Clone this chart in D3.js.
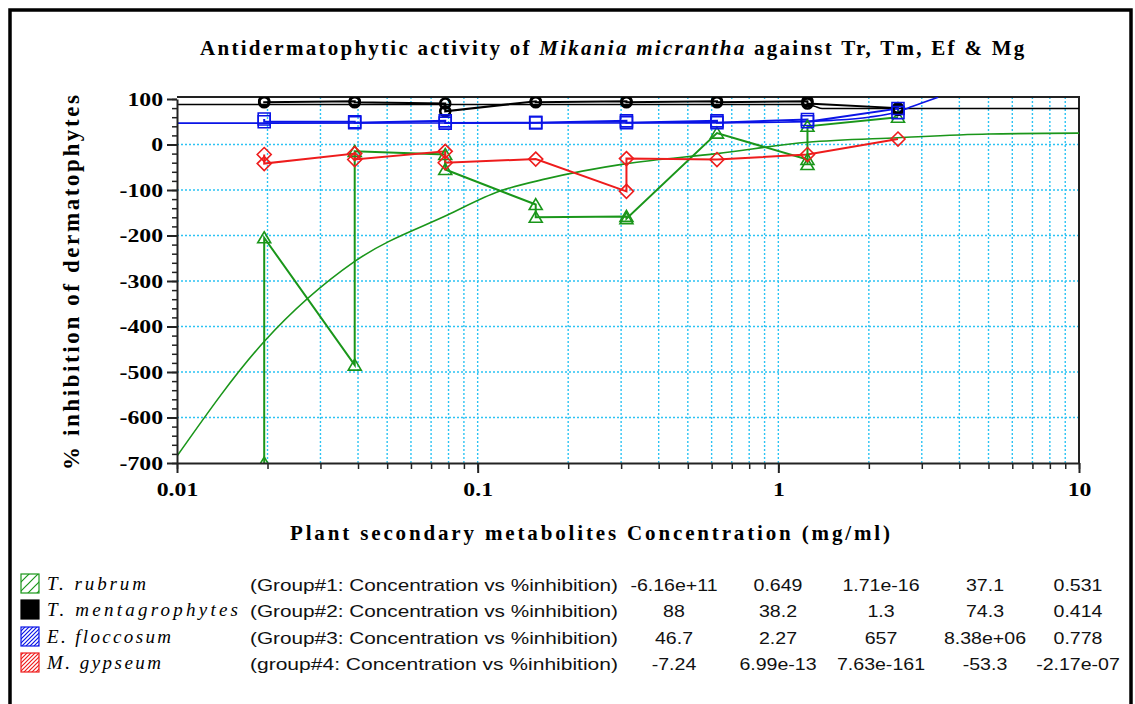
<!DOCTYPE html>
<html>
<head>
<meta charset="utf-8">
<script src="https://cdn.jsdelivr.net/npm/d3@7"></script>
<style>
  body { margin: 0; background: #fff; }
  svg { display: block; }
</style>
</head>
<body>
<div class="chart"></div>
<script>
var width = 1135
var height = 704

// measured points, in the order the original connects them
var rubrumX = [0.0195, 0.0195, 0.039, 0.039, 0.078, 0.078, 0.156, 0.156, 0.3125, 0.3125, 0.625, 1.25, 1.25, 1.25, 2.5]
var rubrumY = [-700, -205, -485, -15, -22, -55, -132, -160, -158, -163, 25, -33, -44, 40, 60]

var mentaX = [0.0195, 0.0195, 0.039, 0.039, 0.078, 0.078, 0.156, 0.156, 0.3125, 0.3125, 0.625, 0.625, 1.25, 1.25, 2.5, 2.5]
var mentaY = [95, 93, 95, 93, 90, 73, 95, 93, 95, 93, 95, 93, 95, 90, 80, 76]

var flocX = [0.0195, 0.0195, 0.039, 0.039, 0.078, 0.078, 0.156, 0.156, 0.3125, 0.3125, 0.625, 0.625, 1.25, 1.25, 2.5, 2.5]
var flocY = [56, 50, 50, 48, 52, 47, 48, 48, 52, 48, 52, 48, 55, 50, 79, 70]

var gypX = [0.0195, 0.0195, 0.039, 0.039, 0.078, 0.078, 0.156, 0.3125, 0.3125, 0.625, 1.25, 2.5]
var gypY = [-22, -42, -20, -33, -15, -40, -32, -103, -31, -33, -22, 12]

// fitted curves
var rubrumFitX = [0.01, 0.0195, 0.039, 0.08, 0.118, 0.17, 0.3125, 0.625, 1.25, 2.5, 5, 10]
var rubrumFitY = [-685, -433, -257, -154, -103, -75, -42, -20, 5, 15, 23, 25]
var mentaFitX = [0.01, 1.25, 1.32, 1.4, 10]
var mentaFitY = [88, 88, 84, 79, 79]
var flocFitX = [0.01, 0.5, 1, 1.5, 2, 2.5, 2.8, 3.0, 3.4]
var flocFitY = [47, 47.5, 49, 53, 60, 72, 84, 91, 104]

var xTickLabels = ['0.01', '0.1', '1', '10']
var xMajor = [0.01, 0.1, 1, 10]
var yMajor = d3.range(-700, 101, 100)

var legendNames = ['T. rubrum', 'T. mentagrophytes', 'E. floccosum', 'M. gypseum']
var legendGroups = ['(Group#1: Concentration vs %inhibition)', '(Group#2: Concentration vs %inhibition)',
    '(Group#3: Concentration vs %inhibition)', '(group#4: Concentration vs %inhibition)']
var legendParams = [
    ['-6.16e+11', '0.649', '1.71e-16', '37.1', '0.531'],
    ['88', '38.2', '1.3', '74.3', '0.414'],
    ['46.7', '2.27', '657', '8.38e+06', '0.778'],
    ['-7.24', '6.99e-13', '7.63e-161', '-53.3', '-2.17e-07']
]

var green = '#1a961a', blue = '#0a14e6', red = '#ee1c1c', gridBlue = '#2cc3f3'
var serif = '"Liberation Serif", "DejaVu Serif", serif'
var sans = '"Liberation Sans", Arial, sans-serif'

var canvas = d3.select('.chart').append('svg')
    .attr('width', width)
    .attr('height', height)

var x = d3.scaleLog().domain([0.01, 10]).range([177, 1079])
var y = d3.scaleLinear().domain([-700, 100]).range([463, 99])

// stretch a text to a given width by spacing letters
function spread(sel, target) {
    sel.each(function () {
        var n = this.textContent.length
        var len = this.getComputedTextLength()
        d3.select(this).attr('letter-spacing', ((target - len) / (n - 1)) + 'px')
    })
}
// stretch glyphs to a given width
function stretchTo(sel, target) {
    sel.attr('textLength', target).attr('lengthAdjust', 'spacingAndGlyphs')
}

// outer frame
canvas.append('rect')
    .attr('x', 10).attr('y', 10)
    .attr('width', 1121).attr('height', 720)
    .attr('fill', 'none').attr('stroke', '#000').attr('stroke-width', 3.5)

// title
var title = canvas.append('text')
    .attr('x', 200).attr('y', 55)
    .attr('font-family', serif).attr('font-size', 21).attr('font-weight', 'bold')
title.append('tspan').text('Antidermatophytic activity of ')
title.append('tspan').attr('font-style', 'italic').text('Mikania micrantha')
title.append('tspan').text(' against Tr, Tm, Ef & Mg')
var tl = title.node().getComputedTextLength()
title.attr('letter-spacing', ((822 - tl) / 69) + 'px')

// grid
var grid = canvas.append('g')
grid.selectAll('.vg')
    .data(x.ticks().filter(function (d) { return d > 0.0101 && d < 9.99 }))
    .enter().append('line')
    .attr('x1', function (d) { return x(d) }).attr('x2', function (d) { return x(d) })
    .attr('y1', y(100) - 2).attr('y2', y(-700))
    .attr('stroke', gridBlue).attr('stroke-width', 1.4).attr('stroke-dasharray', '2,2')
grid.selectAll('.hg')
    .data(d3.range(-600, 1, 100))
    .enter().append('line')
    .attr('x1', x(0.01)).attr('x2', x(10))
    .attr('y1', function (d) { return y(d) }).attr('y2', function (d) { return y(d) })
    .attr('stroke', gridBlue).attr('stroke-width', 1.4).attr('stroke-dasharray', '2,2')

// plot frame top and right
canvas.append('path')
    .attr('d', 'M' + x(0.01) + ',' + (y(100) - 2) + 'H' + x(10) + 'V' + y(-700))
    .attr('fill', 'none').attr('stroke', '#222').attr('stroke-width', 2)

var clip = canvas.append('clipPath').attr('id', 'plotclip')
clip.append('rect').attr('x', x(0.01)).attr('y', y(100) - 2)
    .attr('width', x(10) - x(0.01)).attr('height', y(-700) - y(100) + 2)

var line = d3.line()
    .x(function (d) { return x(d[0]) })
    .y(function (d) { return y(d[1]) })
var smooth = d3.line()
    .x(function (d) { return x(d[0]) })
    .y(function (d) { return y(d[1]) })
    .curve(d3.curveMonotoneX)

function zip(a, b) { return a.map(function (v, i) { return [v, b[i]] }) }

var plot = canvas.append('g').attr('clip-path', 'url(#plotclip)')

// fitted curves
plot.append('path').datum(zip(rubrumFitX, rubrumFitY)).attr('d', smooth)
    .attr('fill', 'none').attr('stroke', green).attr('stroke-width', 1.6)
plot.append('path').datum(zip(mentaFitX, mentaFitY)).attr('d', smooth)
    .attr('fill', 'none').attr('stroke', '#000').attr('stroke-width', 1.6)
plot.append('path').datum(zip(flocFitX, flocFitY)).attr('d', smooth)
    .attr('fill', 'none').attr('stroke', blue).attr('stroke-width', 1.6)

// data lines
var series = [
    { x: rubrumX, y: rubrumY, color: green, shape: 'tri' },
    { x: mentaX, y: mentaY, color: '#000', shape: 'circ' },
    { x: flocX, y: flocY, color: blue, shape: 'sq' },
    { x: gypX, y: gypY, color: red, shape: 'dia' }
]
series.forEach(function (s) {
    plot.append('path').datum(zip(s.x, s.y)).attr('d', line)
        .attr('fill', 'none').attr('stroke', s.color).attr('stroke-width', 2)
})

var shapes = {
    tri: 'M0,-6L6.5,5H-6.5Z',
    circ: 'M-5,0A5,5 0 1,0 5,0A5,5 0 1,0 -5,0Z',
    sq: 'M-6,-6H6V6H-6Z',
    dia: 'M0,-7L7,0L0,7L-7,0Z'
}
series.forEach(function (s) {
    plot.selectAll(null).data(zip(s.x, s.y)).enter().append('path')
        .attr('transform', function (d) { return 'translate(' + x(d[0]) + ',' + y(d[1]) + ')' })
        .attr('d', shapes[s.shape])
        .attr('fill', 'none').attr('stroke', s.color)
        .attr('stroke-width', s.shape === 'circ' ? 2.6 : 1.6)
})

// axes
function styleTicks(g, stretch) {
    g.select('.domain').attr('stroke', '#222').attr('stroke-width', 2)
    g.selectAll('.tick line').attr('stroke', '#222').attr('stroke-width', 2)
    g.selectAll('.tick text')
        .attr('font-family', serif).attr('font-size', 19).attr('font-weight', 'bold').attr('fill', '#000')
        .each(function () {
            var len = this.getComputedTextLength()
            d3.select(this).attr('textLength', len * stretch).attr('lengthAdjust', 'spacingAndGlyphs')
        })
}

var yMinor = canvas.append('g').attr('transform', 'translate(' + x(0.01) + ',0)')
    .call(d3.axisLeft(y).tickValues(d3.range(-700, 101, 20)).tickSize(5).tickFormat(''))
yMinor.select('.domain').remove()
yMinor.selectAll('line').attr('stroke', '#222').attr('stroke-width', 1.5)

var yAxis = canvas.append('g').attr('transform', 'translate(' + x(0.01) + ',0)')
    .call(d3.axisLeft(y).tickValues(yMajor).tickSize(10).tickSizeOuter(0).tickPadding(4)
        .tickFormat(function (d) { return String(d) }))
styleTicks(yAxis, 1.25)

var xMinor = canvas.append('g').attr('transform', 'translate(0,' + y(-700) + ')')
    .call(d3.axisBottom(x).tickValues(x.ticks()).tickSize(6).tickFormat(''))
xMinor.select('.domain').remove()
xMinor.selectAll('line').attr('stroke', '#222').attr('stroke-width', 1.5)

var xAxis = canvas.append('g').attr('transform', 'translate(0,' + y(-700) + ')')
    .call(d3.axisBottom(x).tickValues(xMajor).tickSize(10).tickSizeOuter(0).tickPadding(10)
        .tickFormat(function (d, i) { return xTickLabels[i] }))
styleTicks(xAxis, 1.25)

// axis titles
canvas.append('text')
    .attr('x', 290).attr('y', 540)
    .attr('font-family', serif).attr('font-size', 21).attr('font-weight', 'bold')
    .text('Plant secondary metabolites Concentration (mg/ml)')
    .call(spread, 600)

canvas.append('text')
    .attr('transform', 'translate(79,470) rotate(-90)')
    .attr('font-family', serif).attr('font-size', 23).attr('font-weight', 'bold')
    .text('% inhibition of dermatophytes')
    .call(spread, 375)

// legend
var defs = canvas.append('defs')
function hatch(id, color, gap) {
    var p = defs.append('pattern').attr('id', id).attr('patternUnits', 'userSpaceOnUse')
        .attr('width', gap).attr('height', gap)
    p.append('path').attr('d', 'M0,' + gap + 'L' + gap + ',0M-1,1L1,-1M' + (gap - 1) + ',' + (gap + 1) + 'L' + (gap + 1) + ',' + (gap - 1))
        .attr('stroke', color).attr('stroke-width', 1.2)
}
hatch('hg', green, 9)
hatch('hb', blue, 4)
hatch('hr', red, 4)
var swatchFill = ['url(#hg)', '#000', 'url(#hb)', 'url(#hr)']
var swatchStroke = [green, '#000', blue, red]
var rowY = [585, 611, 638, 664]
var nameWidth = [99, 191, 124, 114]
var colX = [674, 778, 881, 985, 1078]

legendNames.forEach(function (name, i) {
    canvas.append('rect')
        .attr('x', 21).attr('y', rowY[i] - 11).attr('width', 18).attr('height', 19)
        .attr('fill', swatchFill[i]).attr('stroke', swatchStroke[i]).attr('stroke-width', 1.2)
    canvas.append('text')
        .attr('x', 47).attr('y', rowY[i] + 5)
        .attr('font-family', serif).attr('font-size', 19).attr('font-style', 'italic')
        .text(name)
        .call(spread, nameWidth[i])
    canvas.append('text')
        .attr('x', 250).attr('y', rowY[i] + 6)
        .attr('font-family', sans).attr('font-size', 17).attr('fill', '#111')
        .text(legendGroups[i])
        .call(stretchTo, 368)
    canvas.selectAll(null).data(legendParams[i]).enter().append('text')
        .attr('x', function (d, j) { return colX[j] }).attr('y', rowY[i] + 6)
        .attr('text-anchor', 'middle')
        .attr('font-family', sans).attr('font-size', 17).attr('fill', '#111')
        .text(function (d) { return d })
        .each(function () {
            var len = this.getComputedTextLength()
            d3.select(this).attr('textLength', len * 1.15).attr('lengthAdjust', 'spacingAndGlyphs')
        })
})
</script>
</body>
</html>
